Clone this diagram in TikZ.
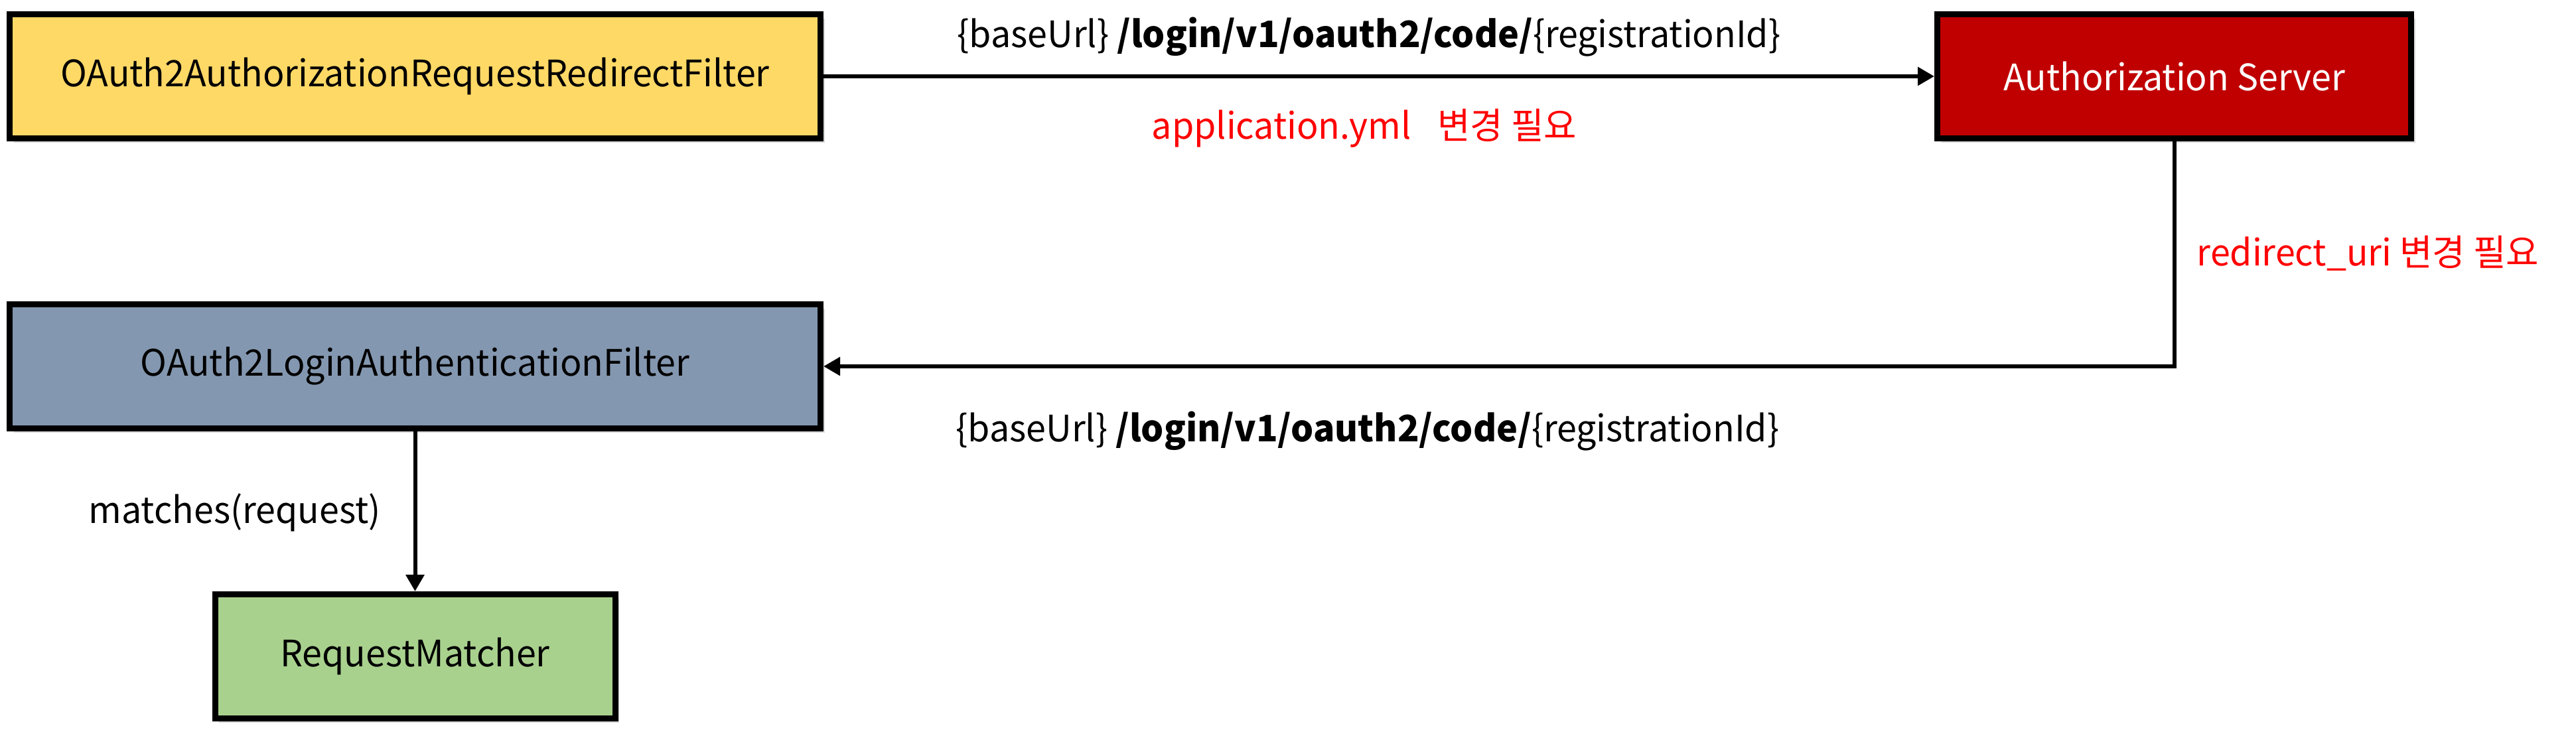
\documentclass[tikz,border=0pt]{standalone}
\usepackage{fontspec}
\setmainfont{Noto Sans CJK KR}[FakeStretch=0.98]
\usepackage{xcolor}
\usetikzlibrary{arrows.meta}
\usetikzlibrary{positioning}
\usetikzlibrary{shadows}

\definecolor{redirfill}{HTML}{FFD966}
\definecolor{authfill}{HTML}{C00000}
\definecolor{loginfill}{HTML}{8497B0}
\definecolor{matchfill}{HTML}{A9D18E}
\definecolor{notered}{HTML}{FF0000}

\begin{document}
\begin{tikzpicture}[node distance=2.41cm,
    font=\fontsize{15.6pt}{18pt}\selectfont,
    box/.style={draw, line width=0.09cm, minimum width=12.22cm, minimum height=1.87cm, align=center,
      drop shadow={shadow xshift=0.06cm, shadow yshift=-0.07cm, opacity=0.3}},
    lbl/.style={inner sep=0pt, anchor=base},
    arr/.style={line width=0.06cm, -{Triangle[length=2.5mm, width=2.7mm]}}]
  \useasboundingbox (0,0) rectangle (38.82,11.18);
  \node[box, fill=redirfill] (redir) at (6.255,10.03) {OAuth2AuthorizationRequestRedirectFilter};
  \node[box, fill=authfill, text=white, minimum width=7.14cm, right=16.74cm of redir] (authsrv) {Authorization Server};
  \node[box, fill=loginfill, below=of redir] (login) {OAuth2LoginAuthenticationFilter};
  \node[box, fill=matchfill, minimum width=6.03cm, below=of login] (matcher) {RequestMatcher};
  % connectors
  \draw[arr] (redir) -- (authsrv);
  \draw[arr] (authsrv.south) |- (login.east);
  \draw[arr] (login) -- (matcher);
  % labels
  \node[lbl] (urlreq) at (20.63,10.46) {\{baseUrl\} \textbf{/login/v1/oauth2/code/}\{registrationId\}};
  \node[lbl, text=notered] (ymlnote) at (20.56,9.08) {application.yml\hspace{0.4cm}변경 필요};
  \node[lbl, text=notered, anchor=base west] (urinote) at (33.10,7.17) {redirect\_uri 변경 필요};
  \node[lbl] (urlcb) at (20.61,4.52) {\{baseUrl\} \textbf{/login/v1/oauth2/code/}\{registrationId\}};
  \node[lbl] (matchlbl) at (3.535,3.29) {matches(request)};
\end{tikzpicture}
\end{document}
